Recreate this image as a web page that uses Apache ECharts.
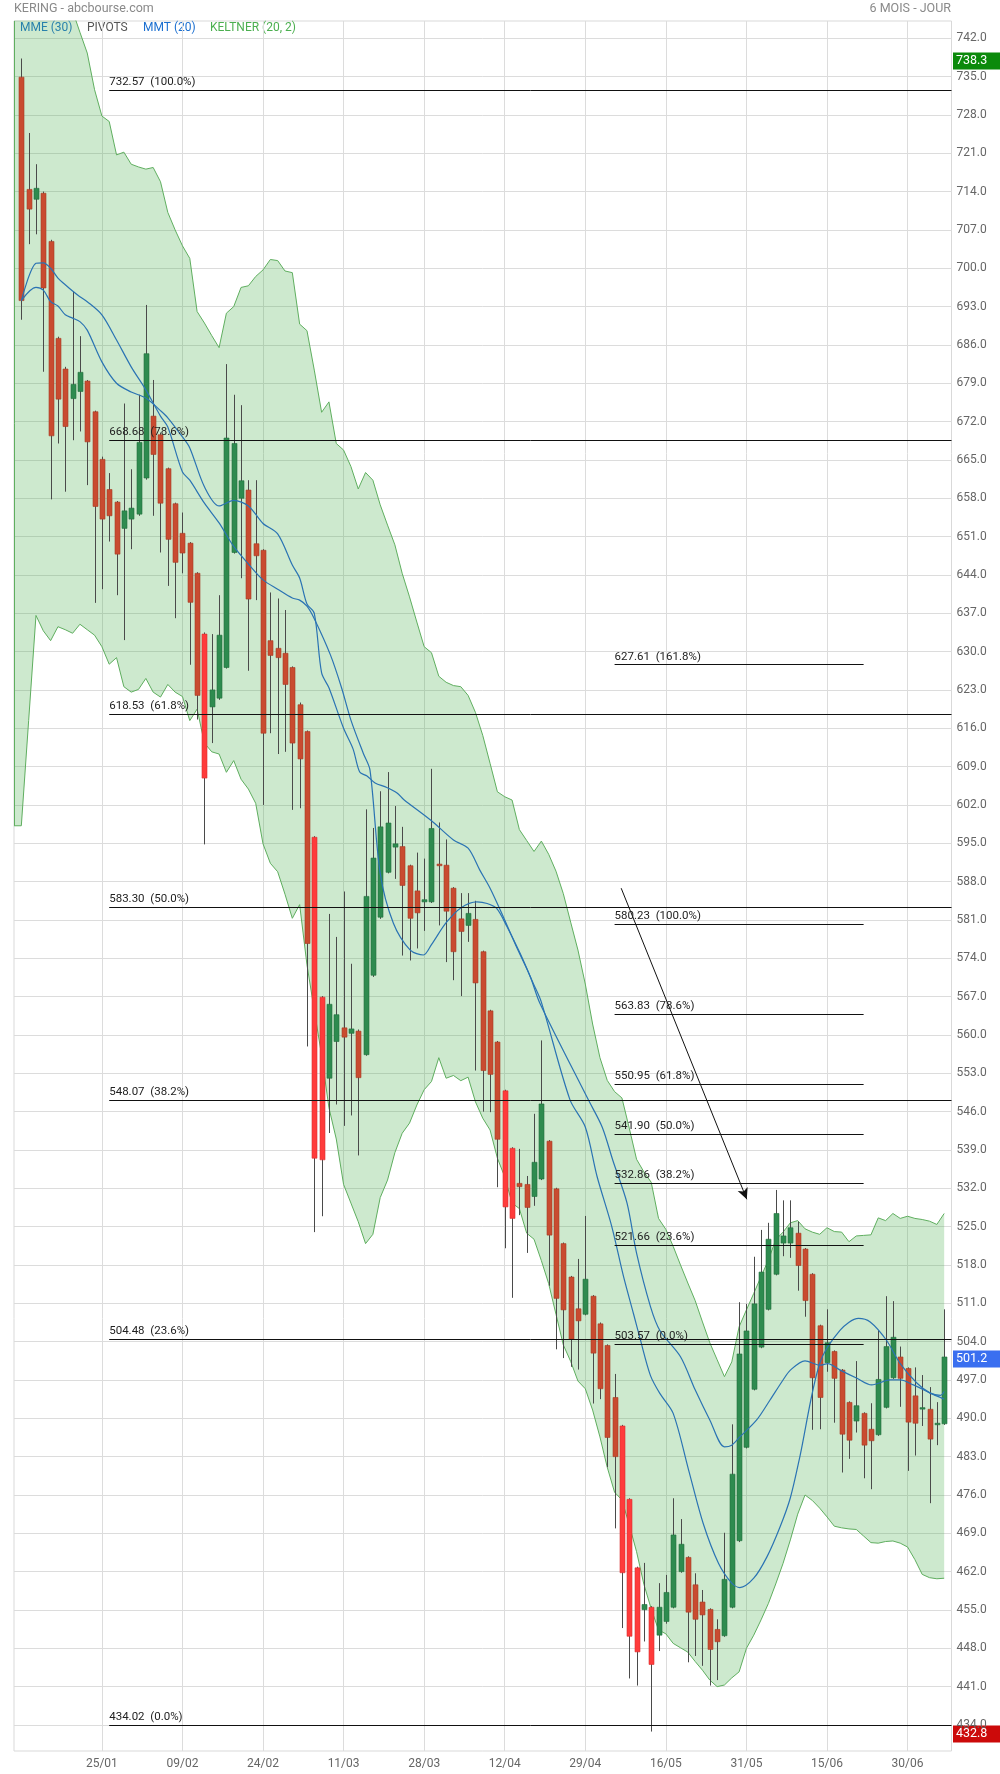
<!DOCTYPE html>
<html><head><meta charset="utf-8">
<script src="https://cdn.jsdelivr.net/npm/echarts/dist/echarts.min.js"></script>
<style>html,body{margin:0;padding:0;background:#fff;}#c{width:1000px;height:1774px;}</style>
</head><body><div id="c"></div>
<script>
// ---- DATA ----
const tickLabels = ['25/01','09/02','24/02','11/03','28/03','12/04','29/04','16/05','31/05','15/06','30/06'];
const tickEvery = 11;

const openP = [
734.9,714.4,712.6,713.7,704.9,687.2,681.6,676.2,677.5,679.4,
673.8,665.1,659.6,657.3,652.5,654.2,655.1,661.7,673.0,669.6,
663.4,657.0,651.6,649.8,644.3,633.2,619.9,621.5,627.1,648.1,
658.0,659.5,649.7,648.5,632.0,630.6,629.7,627.1,620.3,615.4,
596.1,566.9,552.1,558.8,561.3,560.3,560.7,556.4,570.9,581.5,
589.7,594.3,594.4,590.9,586.3,584.3,584.3,591.2,591.0,586.8,
581.2,580.0,581.1,575.2,564.4,558.7,549.8,539.3,532.9,532.7,
530.5,533.7,540.6,531.9,521.9,515.8,510.0,509.0,512.3,507.25,
503.3,493.8,488.6,475.2,462.7,455.05,455.5,450.4,452.9,455.5,
462.0,464.6,459.6,456.45,455.1,451.45,450.3,455.5,467.65,484.7,
495.3,503.0,509.9,516.3,522.0,522.0,523.8,520.9,516.3,506.9,
500.15,502.2,498.8,492.9,489.5,490.9,488.0,487.0,492.0,497.4,
501.2,499.1,494.1,491.7,491.65,488.9,489.0];
const highP = [
738.3,724.7,719.0,714.0,705.2,687.5,682.0,695.7,687.6,679.6,
674.0,665.6,662.6,657.5,675.3,663.3,676.9,693.3,679.6,670.0,
663.6,657.2,655.4,650.0,644.5,633.5,633.2,640.3,682.5,676.9,
675.0,661.3,661.3,648.7,640.8,639.7,637.6,627.3,620.7,615.6,
596.3,567.1,582.1,577.9,586.2,573.0,561.0,601.2,597.8,604.5,
608.0,601.8,598.0,591.1,593.3,592.2,608.6,598.8,595.7,587.0,
585.9,585.9,584.5,575.4,564.6,558.9,550.0,539.5,539.2,534.25,
545.6,559.0,540.8,532.1,522.1,516.0,519.1,526.95,512.5,507.5,
503.5,498.1,488.8,475.4,462.9,463.6,455.7,459.9,461.4,475.4,
471.6,464.8,461.7,458.65,455.3,453.3,469.1,488.9,511.2,510.9,
519.5,524.4,525.7,531.7,529.8,529.8,525.9,521.1,516.5,507.1,
509.9,502.4,499.0,493.1,500.45,491.1,492.75,506.1,512.3,511.4,
503.1,499.3,499.3,497.9,495.7,492.95,509.9];
const lowP = [
690.6,704.4,706.2,681.1,657.8,668.0,659.2,668.6,670.2,660.4,
638.9,641.4,650.1,640.3,632.1,648.7,654.8,661.4,654.8,648.1,
642.0,636.1,644.3,627.6,617.6,594.8,613.3,621.2,626.9,647.9,
643.4,626.5,639.4,602.0,615.1,611.3,611.7,601.1,601.4,557.9,
524.0,526.9,542.1,547.3,543.4,545.3,538.0,556.2,570.6,581.2,
589.5,588.5,574.5,573.6,575.8,579.0,584.1,580.0,573.3,570.0,
567.1,577.0,553.5,546.0,545.9,532.2,521.05,512.0,527.1,520.2,
528.8,533.5,514.2,502.6,501.0,499.4,498.9,508.8,492.7,493.5,
481.05,469.9,451.7,442.5,441.2,449.25,432.8,447.5,452.5,455.3,
461.8,445.45,446.6,444.8,441.2,442.2,450.1,455.3,467.4,484.5,
495.1,502.8,509.7,516.1,519.6,519.3,513.3,508.55,487.9,488.0,
498.5,489.2,480.1,482.6,487.4,479.05,477.05,486.8,491.8,497.2,
492.1,480.4,483.2,488.6,474.5,485.1,488.8];
const closeP = [
694.1,710.8,714.6,696.4,669.4,676.1,671.1,678.8,681.0,668.3,
656.5,654.2,654.8,647.8,655.7,656.2,668.2,684.4,666.0,657.1,
650.5,646.3,648.0,639.0,622.0,606.9,623.0,633.0,669.0,668.0,
661.2,639.6,647.5,615.1,629.3,628.9,624.0,613.3,610.4,576.7,
537.5,537.2,565.6,563.7,559.6,561.1,552.2,585.3,592.3,598.0,
598.7,594.9,587.3,581.3,582.3,584.7,597.7,590.9,582.6,575.2,
578.9,582.2,569.5,553.5,552.8,540.95,528.6,526.5,532.3,528.5,
536.75,547.4,523.45,511.9,509.8,504.45,507.8,515.4,501.9,495.4,
486.5,483.0,461.8,450.2,447.35,456.0,445.05,455.5,458.2,468.7,
467.0,454.6,453.3,454.1,447.8,449.2,460.6,479.8,501.75,505.95,
510.9,516.7,522.7,527.4,523.3,524.8,517.9,511.5,497.4,493.8,
503.8,497.3,487.1,486.0,492.3,485.1,485.9,497.1,503.1,504.8,
497.3,489.3,489.1,491.95,486.2,489.1,501.2];

// Keltner (20,2): first entry = left pad, last entry = right pad
const keltnerUpper = [775,
775,771,767,763,759,755,751,747,743.1,739.3,
732.6,727.8,726.8,720.7,721.2,719.0,718.5,718.1,718.4,715.8,
710.2,707.0,704.1,701.8,692.1,690.0,687.7,685.5,691.8,693.0,
696.5,696.8,698.5,699.7,701.6,701.4,699.5,699.2,689.8,688.6,
681.4,673.7,675.6,668.0,666.8,663.8,659.7,662.7,661.3,656.8,
653.1,649.5,644.3,640.0,635.4,630.9,629.8,625.5,624.4,623.8,
623.6,622.0,618.9,614.7,609.6,604.4,603.5,602.9,597.5,595.5,
593.5,595.4,593.0,589.9,585.8,580.6,575.5,569.3,562.0,555.85,
551.7,549.65,548.5,543.0,537.3,535.0,533.1,526.5,524.5,521.4,
518.0,514.7,511.5,507.6,503.8,500.7,497.6,500.3,506.7,509.8,
512.8,515.9,518.9,522.6,524.0,525.7,526.1,524.6,524.0,523.6,
524.8,524.1,524.0,522.25,523.3,523.4,523.5,526.6,526.1,527.4,
526.5,526.9,526.5,526.3,526.0,525.4,527.4,'-'];
const keltnerLower = [598.2,
598.2,617.4,636.6,633.8,632.0,634.55,634.0,633.35,635.0,634.0,
633.0,630.9,627.7,628.9,623.6,622.6,623.1,625.1,622.6,621.7,
624.0,622.6,621.8,617.4,619.5,613.3,611.7,611.3,607.96,610.1,
606.7,604.9,602.3,594.9,591.35,589.8,585.7,581.3,583.8,572.8,
564.5,556.3,546.7,541.0,532.7,529.3,525.9,521.9,523.6,530.3,
533.5,538.5,542.05,543.9,547.2,550.0,551.5,555.85,552.1,552.6,
551.65,552.3,547.8,544.8,542.65,537.5,534.1,529.3,528.3,523.8,
522.7,518.8,514.6,509.0,503.4,500.4,496.8,495.4,491.5,486.6,
481.05,476.5,475.1,470.55,465.65,459.7,455.2,451.35,450.65,448.9,
448.1,447.3,445.6,444.0,442.2,441.0,441.3,442.6,443.7,448.0,
450.4,453.2,456.2,459.75,463.5,467.8,472.5,476.0,475.0,473.6,
472.0,470.3,470.0,469.8,469.7,468.5,467.3,467.2,467.5,467.6,
467.2,466.5,464.2,461.5,460.9,460.7,460.8,'-'];

// moving averages, [day, value]
const mmtLine = [[0,694.1],[2,700.9],[3,701.0],[4,700.0],[5,698.2],[6,697.0],[7,695.85],[8,694.8],[9,693.9],[11,691.5],[13,686.9],[15,682.0],[17,677.8],[19,673.0],[20,671.0],[22,662.8],[23,661.3],[25,657.1],[27,653.5],[29,649.2],[31,646.0],[33,643.1],[35,641.4],[37,639.8],[38,639.4],[39,638.3],[40,636.0],[42.2,629.4],[43.7,623.5],[45,617.5],[46.7,611.4],[47.6,608.4],[49,589.5],[50.8,580.4],[53.1,575.5],[54.9,574.6],[56,576.5],[58,580.5],[60,583.2],[62.2,584.3],[63.6,584.0],[64.9,583.1],[66.3,579.8],[68.1,574.9],[69.9,569.4],[71,566.0],[74.9,548.2],[77,543.2],[78.6,534.2],[80.6,525.1],[82.2,516.0],[83.6,509.0],[84.5,504.45],[85.9,497.8],[87.2,494.5],[89,490.9],[91.1,480.6],[93.1,470.8],[95.2,463.5],[97,459.9],[98.1,459.1],[100,460.8],[101.8,464.7],[103.6,470.2],[105,475.5],[106.3,483.0],[109,500.0],[111.8,506.1],[114.3,508.25],[115.9,507.6],[118.1,504.3],[120,500.0],[122.3,496.4],[124.1,494.6],[125.5,494.2],[126,494.9]];
const mmeLine = [[0,694.1],[2,696.5],[3,696.0],[4,693.9],[5,693.1],[6,691.5],[7,690.9],[8,690.25],[9,688.7],[11,682.9],[13,679.0],[15,677.4],[17,676.3],[19,674.0],[20,672.7],[22,669.2],[23,667.2],[25,660.1],[27,656.6],[29,657.6],[31,656.6],[33,653.4],[35,651.5],[37,645.8],[38,643.45],[39,638.7],[40,637.0],[41,626.1],[42,623.4],[44,616.0],[45.3,612.2],[46.2,608.0],[47.2,607.3],[48.3,606.0],[49.9,605.2],[51.3,604.2],[52.2,603.0],[56,599.1],[59,595.6],[61,594.1],[62.6,590.1],[64,586.8],[65.8,581.6],[67.6,576.1],[69.5,570.6],[70.8,565.8],[77.4,548.2],[79.3,543.2],[80.8,536.95],[82.7,529.3],[84,520.15],[85.9,510.4],[87.2,506.0],[90,501.25],[92,495.2],[94,489.7],[96,484.8],[97,485.1],[98.1,486.6],[100.4,489.7],[102.2,493.3],[104,497.0],[105,498.8],[107,500.5],[109.1,499.7],[110.1,500.0],[111.8,498.8],[114.1,497.3],[116.1,496.1],[118.6,497.0],[120,497.0],[121.8,496.1],[124.1,494.6],[126,493.5]];

// Fibonacci retracements
const fibLeftLevels = [732.57, 668.68, 618.53, 583.30, 548.07, 504.48, 434.02];
const fibLeftPcts = ['100.0%','78.6%','61.8%','50.0%','38.2%','23.6%','0.0%'];
const fibLeftDays = [12, 127];
const fibRightLevels = [627.61, 580.23, 563.83, 550.95, 541.90, 532.86, 521.66, 503.57];
const fibRightPcts = ['161.8%','100.0%','78.6%','61.8%','50.0%','38.2%','23.6%','0.0%'];
const fibRightDays = [81, 115];
const arrowFrom = [81.9, 586.8];
const arrowTo = [99.05, 530.0];

const yTicks = [434,441,448,455,462,469,476,483,490,497,504,511,518,525,532,539,546,553,560,567,574,581,588,595,602,609,616,623,630,637,644,651,658,665,672,679,686,693,700,707,714,721,728,735,742];
const yMin = 429.25, yMax = 745.15;

// ---- BUILD ----
const N = closeP.length;           // 127 trading days
const cats = [];
for (let k = 0; k < N + 2; k++) cats.push(String(k));   // pad + days + pad
const isTick = (idx) => idx >= tickEvery + 1 && (idx - 1) % tickEvery === 0 && (idx - 1) / tickEvery <= tickLabels.length;

const candleData = [];
for (let i = 0; i < N; i++) {
  let kind = closeP[i] >= openP[i] ? 1 : 0;
  if (kind === 0 && closeP[i] < keltnerLower[i + 1]) kind = 2;
  candleData.push([i + 1, openP[i], closeP[i], lowP[i], highP[i], kind]);
}
const kDiff = keltnerUpper.map((u, k) => (u === '-' || keltnerLower[k] === '-') ? '-' : +(u - keltnerLower[k]).toFixed(3));
const toXY = arr => arr.map(p => [p[0] + 1, p[1]]);

const fibData = [];
fibLeftLevels.forEach((v, k) => fibData.push([
  {coord: [fibLeftDays[0] + 1, v], name: v.toFixed(2) + '  (' + fibLeftPcts[k] + ')'},
  {coord: [fibLeftDays[1] + 1, v]}]));
fibRightLevels.forEach((v, k) => fibData.push([
  {coord: [fibRightDays[0] + 1, v], name: v.toFixed(2) + '  (' + fibRightPcts[k] + ')'},
  {coord: [fibRightDays[1] + 1, v]}]));

const hiVal = Math.max(...highP), loVal = Math.min(...lowP), lastVal = closeP[N - 1];

const GREEN_LINE = '#5fae5f';
const BLUE = '#2a73b3';
const chart = echarts.init(document.getElementById('c'), null, {renderer: 'canvas'});
const FONT = 'Roboto, "Noto Sans", sans-serif';

const baseGraphics = [
  {type: 'text', left: 14, top: 2, style: {text: 'KERING - abcbourse.com', fill: '#8a8a8a', font: '12.5px ' + FONT}},
  {type: 'text', right: 49, top: 2, style: {text: '6 MOIS - JOUR', fill: '#8a8a8a', font: '12.5px ' + FONT, textAlign: 'right'}},
  {type: 'text', left: 20, top: 22, style: {text: 'MME (30)', fill: '#1b6fd0', font: '12px ' + FONT}},
  {type: 'text', left: 87, top: 22, style: {text: 'PIVOTS', fill: '#555', font: '12px ' + FONT}},
  {type: 'text', left: 143, top: 22, style: {text: 'MMT (20)', fill: '#1b6fd0', font: '12px ' + FONT}},
  {type: 'text', left: 210, top: 22, style: {text: 'KELTNER (20, 2)', fill: '#4caf50', font: '12px ' + FONT}}
];

chart.setOption({
  animation: false,
  backgroundColor: '#fff',
  textStyle: {fontFamily: FONT},
  grid: {left: 14, right: 48.5, top: 21, bottom: 23, show: true, borderColor: '#d9d9d9', borderWidth: 1, outerBoundsMode: 'none', containLabel: false},
  xAxis: [{
    type: 'category', data: cats, boundaryGap: false,
    axisLine: {show: false}, axisTick: {show: false},
    axisLabel: {interval: (i) => isTick(i), formatter: (v, i) => { const k = (i - 1) / tickEvery - 1; return tickLabels[k] || ''; },
      color: '#666', fontSize: 12, margin: 7, fontFamily: FONT},
    splitLine: {show: true, interval: (i) => isTick(i), lineStyle: {color: '#dcdcdc', width: 1}}
  }, {
    type: 'value', min: 0, max: N + 1, show: false
  }],
  yAxis: {
    type: 'value', position: 'right', min: yMin, max: yMax, scale: true,
    axisLine: {show: false},
    axisTick: {show: false, customValues: yTicks},
    axisLabel: {customValues: yTicks, formatter: v => v.toFixed(1), color: '#666', fontSize: 12, margin: 5, fontFamily: FONT},
    splitLine: {show: true, lineStyle: {color: '#dcdcdc', width: 1}}
  },
  series: [
    {name: 'kLow', type: 'line', xAxisIndex: 0, data: keltnerLower, stack: 'kelt', symbol: 'none', z: 1,
     lineStyle: {color: GREEN_LINE, width: 1}, silent: true,
     markLine: {silent: true, symbol: ['none','none'], lineStyle: {color: GREEN_LINE, width: 1, type: 'solid'}, label: {show: false},
       data: [[{coord: [0, keltnerLower[0]]}, {coord: [0, yMax]}]]}},
    {name: 'kHigh', type: 'line', xAxisIndex: 0, data: kDiff, stack: 'kelt', symbol: 'none', z: 1,
     lineStyle: {color: GREEN_LINE, width: 1}, areaStyle: {color: 'rgb(76,175,80)', opacity: 0.28}, silent: true},
    {name: 'candles', type: 'custom', xAxisIndex: 0, z: 3, silent: true,
     encode: {x: 0, y: [1, 2, 3, 4]},
     data: candleData,
     renderItem: function (params, api) {
       const x = api.value(0);
       const o = api.value(1), c = api.value(2), l = api.value(3), h = api.value(4), kind = api.value(5);
       const pH = api.coord([x, h]), pL = api.coord([x, l]), pO = api.coord([x, o]), pC = api.coord([x, c]);
       const bw = Math.round(api.size([1, 0])[0] * 0.62);
       const cx = Math.round(pH[0]);
       const top = Math.min(pO[1], pC[1]), bot = Math.max(pO[1], pC[1]);
       const fill = kind === 1 ? '#2e8b4f' : (kind === 2 ? '#ff3b3b' : '#c94b30');
       const stroke = kind === 1 ? '#23703e' : (kind === 2 ? '#d83030' : '#a63c25');
       return {type: 'group', children: [
         {type: 'line', shape: {x1: cx + 0.5, y1: pH[1], x2: cx + 0.5, y2: pL[1]}, style: {stroke: '#4a4a4a', lineWidth: 1}},
         {type: 'rect', shape: {x: cx + 0.5 - bw / 2, y: top, width: bw, height: Math.max(bot - top, 1.5)}, style: {fill: fill, stroke: stroke, lineWidth: 0.6}}
       ]};
     }},
    {name: 'MME (30)', type: 'line', xAxisIndex: 1, data: toXY(mmeLine), symbol: 'none', smooth: 0.3, z: 4, silent: true,
     lineStyle: {color: BLUE, width: 1.2}},
    {name: 'MMT (20)', type: 'line', xAxisIndex: 1, data: toXY(mmtLine), symbol: 'none', smooth: 0.3, z: 4, silent: true,
     lineStyle: {color: BLUE, width: 1.2}},
    {name: 'fib', type: 'line', xAxisIndex: 1, data: [], z: 5, silent: true,
     markLine: {silent: true, symbol: ['none','none'], animation: false,
       lineStyle: {color: '#111', width: 1, type: 'solid'},
       label: {show: true, position: 'insideStartTop', formatter: p => p.name, color: '#222', fontSize: 11.5, fontFamily: FONT, distance: [0, 2]},
       data: fibData.concat([[
         {coord: [arrowFrom[0] + 1, arrowFrom[1]], name: '', label: {show: false}, symbol: 'none'},
         {coord: [arrowTo[0] + 1, arrowTo[1]], symbol: 'arrow', symbolSize: [8, 11]}
       ]])}}
  ],
  graphic: baseGraphics
});

// price tags on the right axis, placed through the y scale
const tagSpecs = [[hiVal, '#0b8a0b'], [lastVal, '#3a6ff0'], [loVal, '#cc0a0a']];
const tagGraphics = tagSpecs.map(([v, bg]) => {
  const y = chart.convertToPixel({yAxisIndex: 0}, v);
  return {type: 'group', x: 953, y: Math.round(y) + 2, z: 100, children: [
    {type: 'rect', shape: {x: 0, y: -8.5, width: 50, height: 17}, style: {fill: bg}},
    {type: 'text', x: 3, y: 0, style: {text: v.toFixed(1), fill: '#fff', font: '12.5px ' + FONT, textVerticalAlign: 'middle'}}
  ]};
});
chart.setOption({graphic: baseGraphics.concat(tagGraphics)});
</script></body></html>
